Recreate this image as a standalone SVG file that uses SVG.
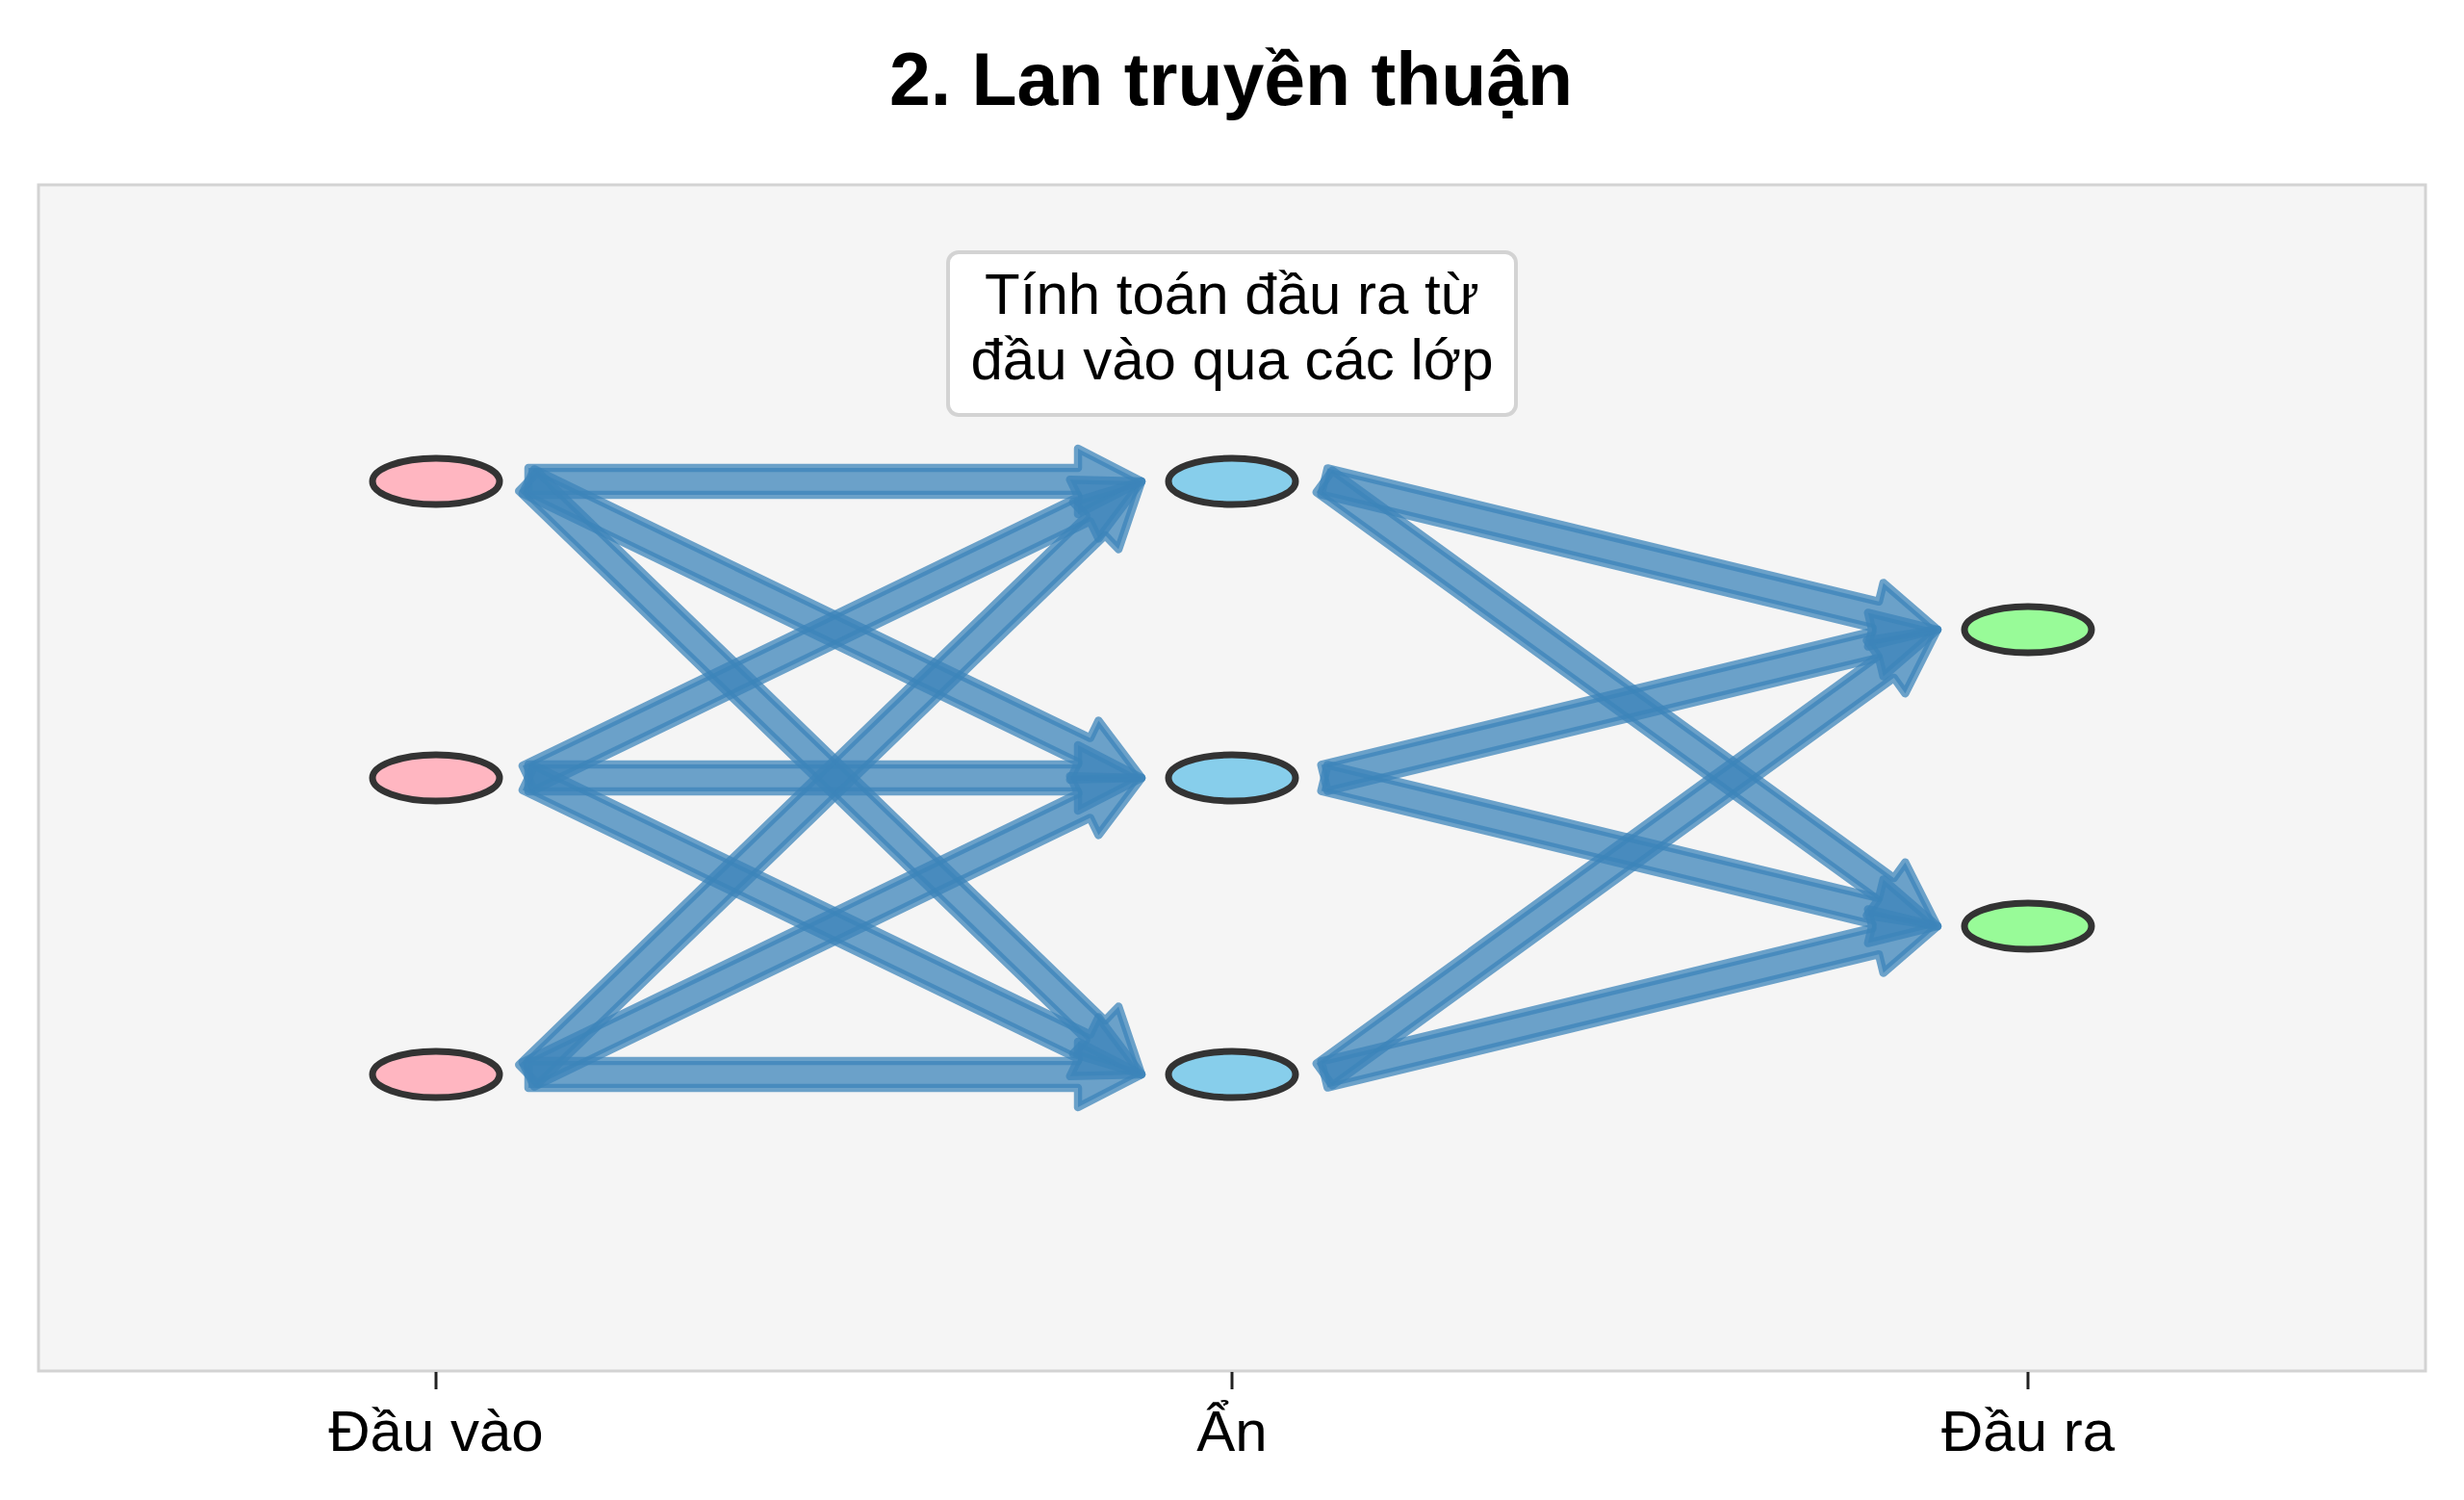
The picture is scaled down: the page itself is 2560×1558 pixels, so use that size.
<svg xmlns="http://www.w3.org/2000/svg" width="2560" height="1558" viewBox="0 0 2560 1558">
<style>
.txt{font-family:"Liberation Sans",Arial,sans-serif;fill:#000;text-anchor:middle}
.title{font-size:77px;font-weight:bold}
.lbl{font-size:60px}
.arr{fill:#3c84b9;fill-opacity:0.75;stroke:#3c84b9;stroke-opacity:0.75;stroke-width:8.5;stroke-linejoin:round}
.node{stroke:#333333;stroke-width:7}
.tick{stroke:#222;stroke-width:3}
</style>
<rect x="0" y="0" width="2560" height="1558" fill="#ffffff"/>
<text class="txt title" x="1279" y="109">2. Lan truyền thuận</text>
<rect id="axes" x="40" y="192" width="2480" height="1232" fill="#f5f5f5" stroke="#d3d3d3" stroke-width="3"/>
<g id="connectors">
  <!-- layer 1: input -> hidden -->
  <path class="arr" transform="translate(549,500)" d="M0,-14 L571,-14 L571,-34 L637,0 L571,34 L571,14 L0,14 Z"/>
  <path class="arr" transform="translate(549,500) rotate(25.80)" d="M0,-14 L641.5,-14 L641.5,-34 L707.5,0 L641.5,34 L641.5,14 L0,14 Z"/>
  <path class="arr" transform="translate(549,500) rotate(44.04)" d="M0,-14 L820,-14 L820,-34 L886,0 L820,34 L820,14 L0,14 Z"/>
  <path class="arr" transform="translate(549,808) rotate(-25.80)" d="M0,-14 L641.5,-14 L641.5,-34 L707.5,0 L641.5,34 L641.5,14 L0,14 Z"/>
  <path class="arr" transform="translate(549,808)" d="M0,-14 L571,-14 L571,-34 L637,0 L571,34 L571,14 L0,14 Z"/>
  <path class="arr" transform="translate(549,808) rotate(25.80)" d="M0,-14 L641.5,-14 L641.5,-34 L707.5,0 L641.5,34 L641.5,14 L0,14 Z"/>
  <path class="arr" transform="translate(549,1116) rotate(-44.04)" d="M0,-14 L820,-14 L820,-34 L886,0 L820,34 L820,14 L0,14 Z"/>
  <path class="arr" transform="translate(549,1116) rotate(-25.80)" d="M0,-14 L641.5,-14 L641.5,-34 L707.5,0 L641.5,34 L641.5,14 L0,14 Z"/>
  <path class="arr" transform="translate(549,1116)" d="M0,-14 L571,-14 L571,-34 L637,0 L571,34 L571,14 L0,14 Z"/>
  <!-- layer 2: hidden -> output -->
  <path class="arr" transform="translate(1376,500) rotate(13.59)" d="M0,-14 L589.3,-14 L589.3,-34 L655.3,0 L589.3,34 L589.3,14 L0,14 Z"/>
  <path class="arr" transform="translate(1376,500) rotate(35.96)" d="M0,-14 L720.9,-14 L720.9,-34 L786.9,0 L720.9,34 L720.9,14 L0,14 Z"/>
  <path class="arr" transform="translate(1376,808) rotate(-13.59)" d="M0,-14 L589.3,-14 L589.3,-34 L655.3,0 L589.3,34 L589.3,14 L0,14 Z"/>
  <path class="arr" transform="translate(1376,808) rotate(13.59)" d="M0,-14 L589.3,-14 L589.3,-34 L655.3,0 L589.3,34 L589.3,14 L0,14 Z"/>
  <path class="arr" transform="translate(1376,1116) rotate(-35.96)" d="M0,-14 L720.9,-14 L720.9,-34 L786.9,0 L720.9,34 L720.9,14 L0,14 Z"/>
  <path class="arr" transform="translate(1376,1116) rotate(-13.59)" d="M0,-14 L589.3,-14 L589.3,-34 L655.3,0 L589.3,34 L589.3,14 L0,14 Z"/>
</g>
<g id="in1"><ellipse class="node" cx="453" cy="500" rx="66" ry="24" fill="#ffb6c1"/></g>
<g id="in2"><ellipse class="node" cx="453" cy="808" rx="66" ry="24" fill="#ffb6c1"/></g>
<g id="in3"><ellipse class="node" cx="453" cy="1116" rx="66" ry="24" fill="#ffb6c1"/></g>
<g id="h1"><ellipse class="node" cx="1280" cy="500" rx="66" ry="24" fill="#87ceeb"/></g>
<g id="h2"><ellipse class="node" cx="1280" cy="808" rx="66" ry="24" fill="#87ceeb"/></g>
<g id="h3"><ellipse class="node" cx="1280" cy="1116" rx="66" ry="24" fill="#87ceeb"/></g>
<g id="o1"><ellipse class="node" cx="2107" cy="654" rx="66" ry="24" fill="#98fb98"/></g>
<g id="o2"><ellipse class="node" cx="2107" cy="962" rx="66" ry="24" fill="#98fb98"/></g>
<g id="note">
  <rect x="985" y="262" width="590" height="169" rx="11" fill="#ffffff" stroke="#d3d3d3" stroke-width="4"/>
  <text class="txt lbl" x="1280" y="326">Tính toán đầu ra từ</text>
  <text class="txt lbl" x="1280" y="394">đầu vào qua các lớp</text>
</g>
<g id="xaxis">
  <line class="tick" x1="453" y1="1425" x2="453" y2="1443"/>
  <line class="tick" x1="1280" y1="1425" x2="1280" y2="1443"/>
  <line class="tick" x1="2107" y1="1425" x2="2107" y2="1443"/>
  <text class="txt lbl" x="453" y="1507">Đầu vào</text>
  <text class="txt lbl" x="1280" y="1507">Ẩn</text>
  <text class="txt lbl" x="2107" y="1507">Đầu ra</text>
</g>
</svg>
